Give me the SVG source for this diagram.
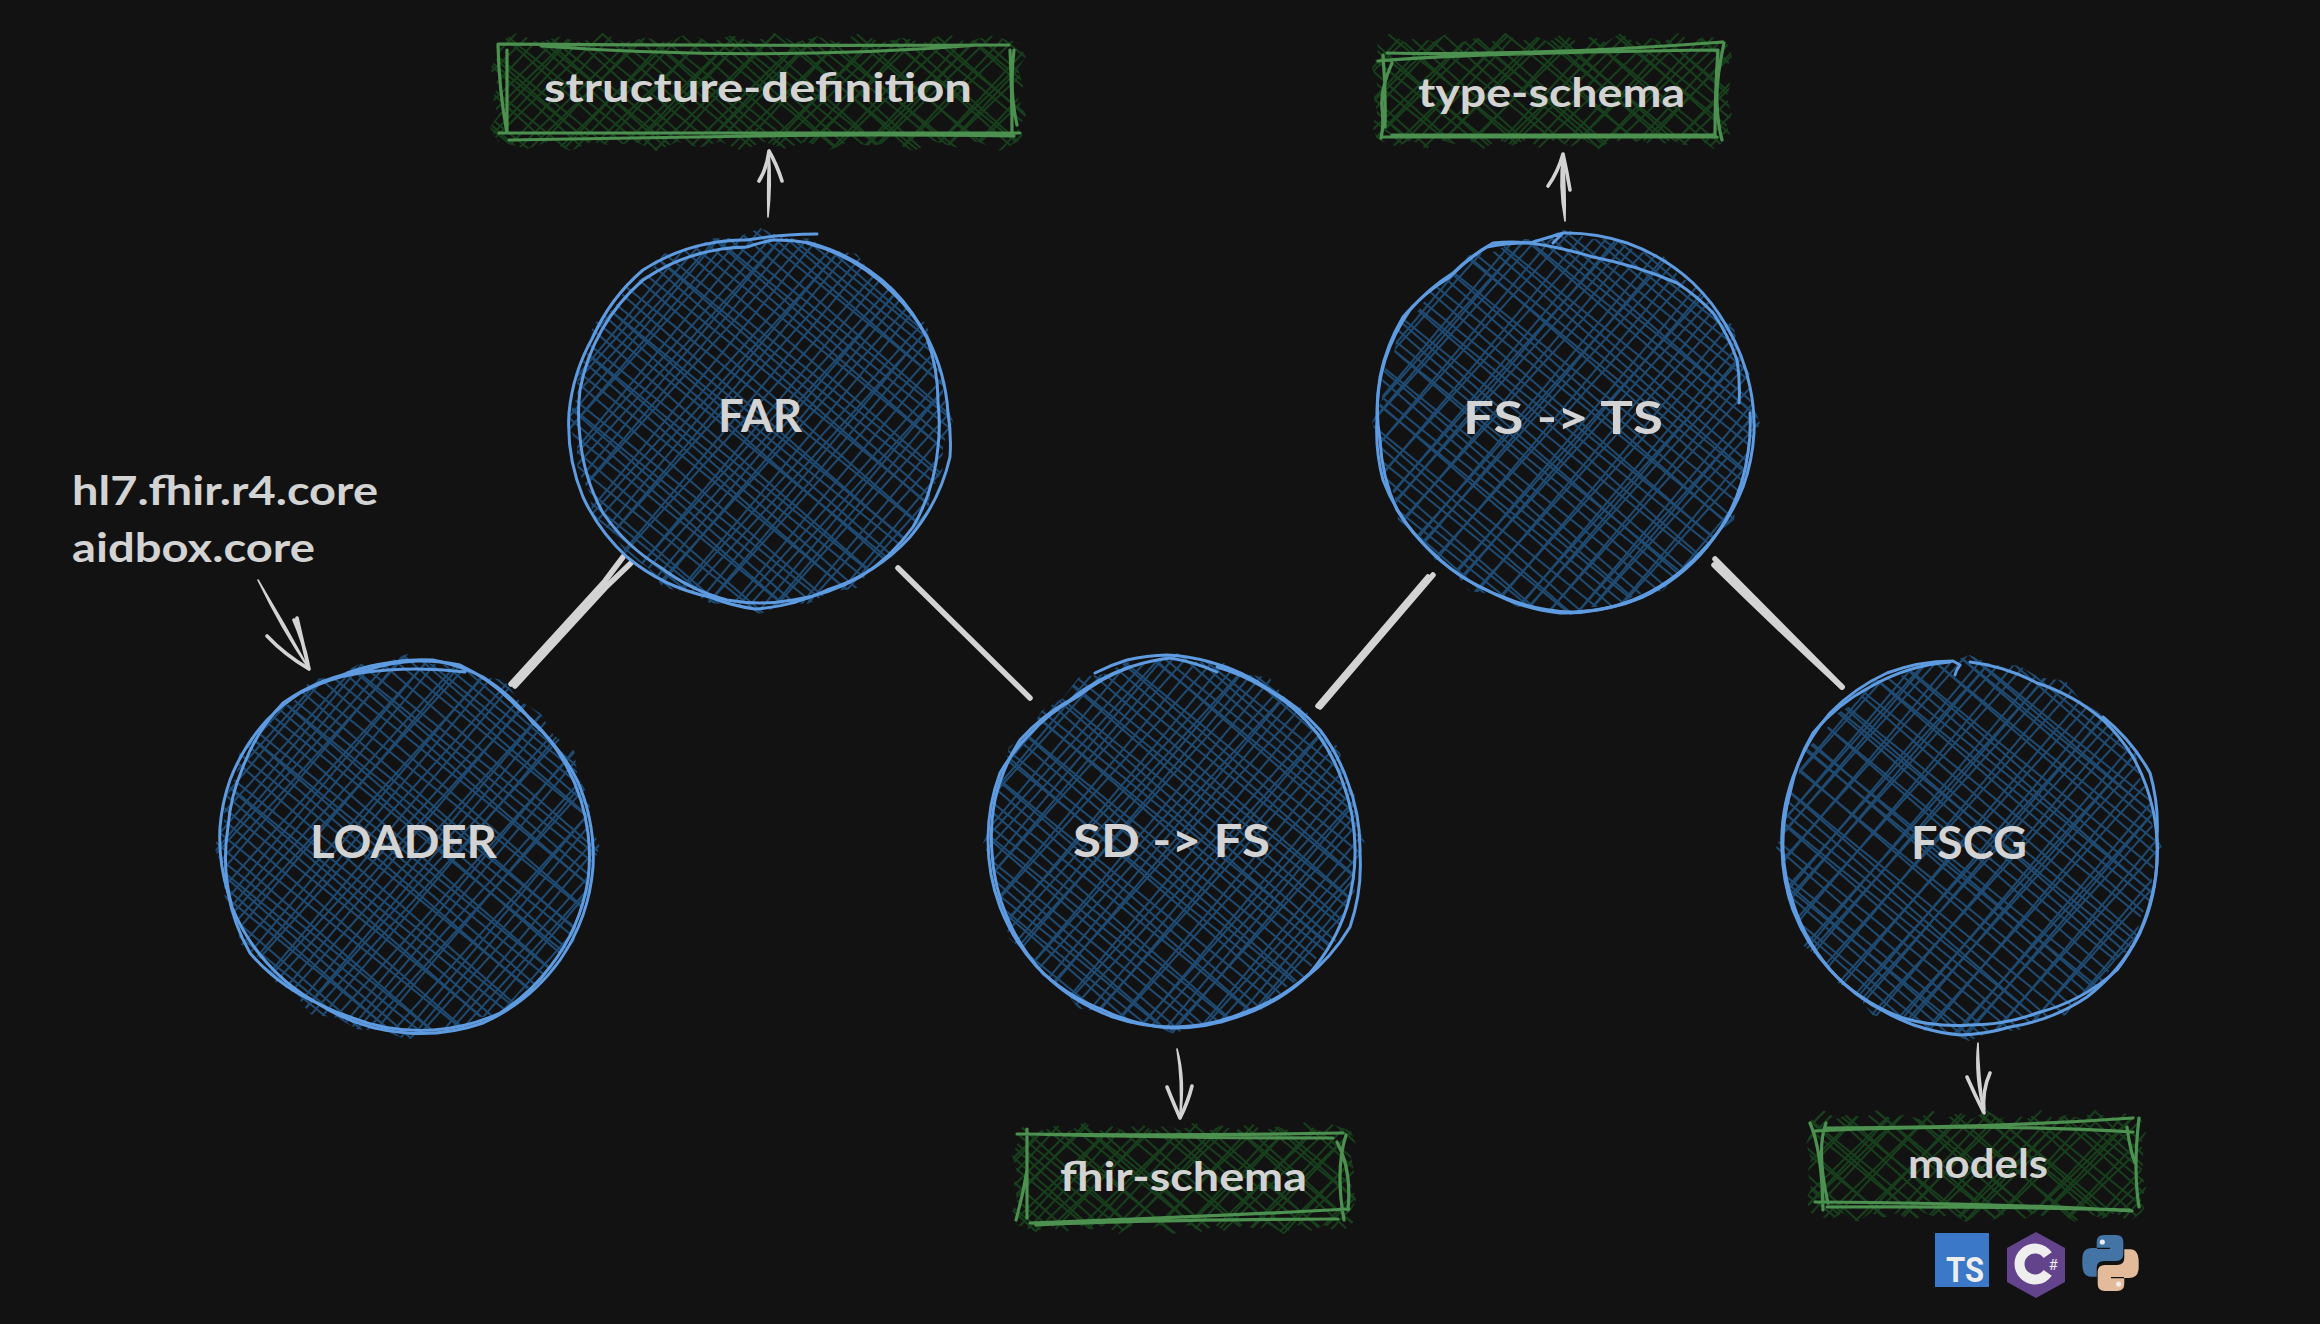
<svg xmlns="http://www.w3.org/2000/svg" width="2320" height="1324" viewBox="0 0 2320 1324">
<style>
.bg{fill:#121212}
.h1{fill:url(#b1)}.h2{fill:url(#b2)}.h3{fill:url(#b3)}.h4{fill:url(#b4)}
.g1{fill:url(#g1)}.g2{fill:url(#g2)}.g3{fill:url(#g3)}.g4{fill:url(#g4)}
.hc{clip-path:url(#star)}
.rc{clip-path:url(#zig)}
.co{fill:none;stroke:#5f9be0;stroke-width:3;stroke-linecap:round;stroke-linejoin:round}
.ro{fill:none;stroke:#4d9150;stroke-width:3.2;stroke-linecap:round;stroke-linejoin:round}
.t{font-family:"Lato","Noto Sans",sans-serif;font-weight:700;fill:#d3d3d3;font-size:40px}
.c{font-size:45px}
.conn{fill:none;stroke:#d3d3d3;stroke-width:5.5;stroke-linecap:round;stroke-linejoin:round}
.shaft{fill:#d3d3d3;stroke:#d3d3d3;stroke-width:1.6;stroke-linejoin:round}
.wing{fill:none;stroke:#d3d3d3;stroke-width:3.6;stroke-linecap:round}
</style>
<defs>
<clipPath id="star" clipPathUnits="objectBoundingBox"><polygon points="1,.5 .974,.562 .973,.627 .942,.683 .933,.75 .879,.791 .846,.846 .791,.879 .75,.933 .683,.942 .627,.973 .562,.974 .5,1 .438,.974 .373,.973 .317,.942 .25,.933 .209,.879 .154,.846 .121,.791 .067,.75 .058,.683 .027,.627 .026,.562 0,.5 .026,.438 .027,.373 .058,.317 .067,.25 .121,.209 .154,.154 .209,.121 .25,.067 .317,.058 .373,.027 .438,.026 .5,0 .562,.026 .627,.027 .683,.058 .75,.067 .791,.121 .846,.154 .879,.209 .933,.25 .942,.317 .973,.373 .974,.438"/></clipPath>
<clipPath id="zig" clipPathUnits="objectBoundingBox"><polygon points=".015,.08 .05,0 .09,.08 .13,.03 .17,.08 .21,0 .25,.08 .29,.04 .33,.08 .37,0 .41,.08 .45,.02 .49,.08 .53,0 .57,.08 .61,.03 .65,.08 .69,0 .73,.08 .77,.04 .81,.08 .85,0 .89,.08 .93,.02 .985,.08 1,.2 .985,.3 .995,.45 .985,.55 1,.7 .985,.8 .995,.88 .985,.92 .95,1 .91,.92 .87,.97 .83,.92 .79,1 .75,.92 .71,.96 .67,.92 .63,1 .59,.92 .55,.98 .51,.92 .47,1 .43,.92 .39,.97 .35,.92 .31,1 .27,.92 .23,.96 .19,.92 .15,1 .11,.92 .07,.98 .015,.92 0,.8 .015,.7 .005,.55 .015,.45 0,.3 .015,.2"/></clipPath>
<g id="tile">
<path d="M0 4H420M0 12H420M0 30H420M0 52H420M0 60H420M0 80H420M0 104H420M0 112H420M0 132H420M0 154H420" stroke-width="2.1"/>
</g>
<pattern id="b1" patternUnits="userSpaceOnUse" width="420" height="170" patternTransform="rotate(41)" stroke="#1f4a72" fill="none"><use href="#tile"/></pattern>
<pattern id="b2" patternUnits="userSpaceOnUse" width="420" height="170" patternTransform="rotate(39) translate(0 15)" stroke="#1f4a72" fill="none"><use href="#tile"/></pattern>
<pattern id="b3" patternUnits="userSpaceOnUse" width="420" height="170" patternTransform="rotate(-48)" stroke="#1f4a72" fill="none"><use href="#tile"/></pattern>
<pattern id="b4" patternUnits="userSpaceOnUse" width="420" height="170" patternTransform="rotate(-50) translate(0 20)" stroke="#1f4a72" fill="none"><use href="#tile"/></pattern>
<pattern id="g1" patternUnits="userSpaceOnUse" width="420" height="170" patternTransform="rotate(42)" stroke="#173f1c" fill="none"><use href="#tile"/></pattern>
<pattern id="g2" patternUnits="userSpaceOnUse" width="420" height="170" patternTransform="rotate(-47)" stroke="#173f1c" fill="none"><use href="#tile"/></pattern>
<pattern id="g3" patternUnits="userSpaceOnUse" width="420" height="170" patternTransform="rotate(-44) translate(0 23)" stroke="#173f1c" fill="none"><use href="#tile"/></pattern>
<pattern id="g4" patternUnits="userSpaceOnUse" width="420" height="170" patternTransform="rotate(39) translate(0 19)" stroke="#173f1c" fill="none"><use href="#tile"/></pattern>
</defs>
<rect class="bg" x="0" y="0" width="2320" height="1324"/>

<g id="connectors">
<path class="conn" d="M511 684L605 581L623 557"/>
<path class="conn" d="M515 686L607 586L631 563"/>
<path class="conn" d="M898 568L1030 698"/>
<path class="conn" d="M1318 706L1428 577"/>
<path class="conn" d="M1320 707L1433 575"/>
<path class="conn" d="M1715 559L1842 687"/>
<path class="conn" d="M1714 565Q1780 630 1842 687"/>
<g id="arrow-loader">
<path class="shaft" d="M258 580Q285 625 309 669Q281 628 258 580Z"/>
<path class="wing" d="M309 669Q285 655 267 636M309 669Q303 645 297 618M308 664Q303 640 294 620"/>
</g>
<g id="arrow-far">
<path class="shaft" d="M768 217Q767 180 769 151Q772 185 768 217Z"/>
<path class="wing" d="M769 151Q767 168 759 181M769 151Q777 165 782 181"/>
</g>
<g id="arrow-fsts">
<path class="shaft" d="M1565 221Q1558 185 1563 154Q1566 190 1565 221Z"/>
<path class="wing" d="M1563 154Q1558 172 1548 186M1563 154Q1567 172 1570 190"/>
</g>
<g id="arrow-sdfs">
<path class="shaft" d="M1177 1049Q1186 1080 1180 1118Q1182 1080 1177 1049Z"/>
<path class="wing" d="M1180 1118Q1173 1102 1167 1087M1180 1118Q1188 1102 1192 1086"/>
</g>
<g id="arrow-fscg">
<path class="shaft" d="M1978 1043Q1974 1075 1984 1113Q1979 1075 1978 1043Z"/>
<path class="wing" d="M1984 1113Q1975 1095 1967 1077M1984 1113Q1982 1090 1990 1073"/>
</g>
</g>

<g id="node-loader">
<g class="hc"><circle class="h1" cx="407" cy="847" r="193"/><circle class="h2" cx="407" cy="847" r="193"/><circle class="h3" cx="407" cy="847" r="193"/><circle class="h4" cx="407" cy="847" r="193"/></g>
<path class="co" d="M465 672A400 400 0 0 0 360 673A190 190 0 0 0 300 693A190 190 0 0 0 267 720A190 190 0 0 0 230 780A190 190 0 0 0 220 827A190 190 0 0 0 228 893A190 190 0 0 0 250 953A190 190 0 0 0 317 1003A190 190 0 0 0 407 1033A190 190 0 0 0 483 1023A190 190 0 0 0 560 960A190 190 0 0 0 593 867A190 190 0 0 0 577 780A190 190 0 0 0 533 723A190 190 0 0 0 483 677A190 190 0 0 0 433 660A190 190 0 0 0 387 663A190 190 0 0 0 347 673"/>
<path class="co" d="M417 661A190 190 0 0 0 367 670A190 190 0 0 0 283 703A190 190 0 0 0 243 767A190 190 0 0 0 228 827A190 190 0 0 0 232 907A190 190 0 0 0 267 963A190 190 0 0 0 350 1017A190 190 0 0 0 433 1030A190 190 0 0 0 500 1013A190 190 0 0 0 550 967A190 190 0 0 0 588 880A190 190 0 0 0 588 833A190 190 0 0 0 567 767A190 190 0 0 0 517 707A190 190 0 0 0 460 665A190 190 0 0 0 417 661"/>
<text class="t c" x="310" y="858" textLength="187" lengthAdjust="spacingAndGlyphs">LOADER</text>
</g>

<g id="node-far">
<g class="hc"><circle class="h1" cx="760" cy="421" r="193"/><circle class="h2" cx="760" cy="421" r="193"/><circle class="h3" cx="760" cy="421" r="193"/><circle class="h4" cx="760" cy="421" r="193"/></g>
<path class="co" d="M817 234A400 400 0 0 0 747 240A190 190 0 0 0 643 270A190 190 0 0 0 593 337A190 190 0 0 0 569 413A190 190 0 0 0 583 497A190 190 0 0 0 627 557A190 190 0 0 0 710 597A190 190 0 0 0 755 609A190 190 0 0 0 827 590A190 190 0 0 0 910 537A190 190 0 0 0 950 457A190 190 0 0 0 948 413A190 190 0 0 0 927 337A190 190 0 0 0 893 293A190 190 0 0 0 807 243"/>
<path class="co" d="M927 338A190 190 0 0 0 893 290A190 190 0 0 0 810 243A190 190 0 0 0 773 240A190 190 0 0 0 747 247A190 190 0 0 0 643 280A190 190 0 0 0 580 390A190 190 0 0 0 580 437A190 190 0 0 0 603 513A190 190 0 0 0 660 567A190 190 0 0 0 727 600A190 190 0 0 0 793 600A190 190 0 0 0 860 577A190 190 0 0 0 913 527A190 190 0 0 0 938 447A190 190 0 0 0 938 403A190 190 0 0 0 927 338"/>
<text class="t c" x="718" y="432" textLength="84" lengthAdjust="spacingAndGlyphs">FAR</text>
</g>

<g id="node-sd-fs">
<g class="hc"><circle class="h1" cx="1174" cy="843" r="191"/><circle class="h2" cx="1174" cy="843" r="191"/><circle class="h3" cx="1174" cy="843" r="191"/><circle class="h4" cx="1174" cy="843" r="191"/></g>
<path class="co" d="M1095 673A190 190 0 0 1 1127 660A190 190 0 0 1 1167 655A190 190 0 0 1 1210 662A190 190 0 0 1 1270 690A190 190 0 0 1 1320 730A190 190 0 0 1 1347 780A190 190 0 0 1 1360 853A190 190 0 0 1 1350 927A190 190 0 0 1 1303 980A190 190 0 0 1 1237 1017A190 190 0 0 1 1170 1028A190 190 0 0 1 1103 1010A190 190 0 0 1 1037 967A190 190 0 0 1 1000 907A190 190 0 0 1 988 840A190 190 0 0 1 1000 773A190 190 0 0 1 1027 737A190 190 0 0 1 1077 697A190 190 0 0 1 1130 667"/>
<path class="co" d="M1217 672A190 190 0 0 0 1170 658A190 190 0 0 0 1130 667A190 190 0 0 0 1070 700A190 190 0 0 0 1020 740A190 190 0 0 0 995 800A190 190 0 0 0 992 853A190 190 0 0 0 1007 917A190 190 0 0 0 1043 973A190 190 0 0 0 1113 1017A190 190 0 0 0 1177 1027A190 190 0 0 0 1243 1013A190 190 0 0 0 1310 973A190 190 0 0 0 1347 907A190 190 0 0 0 1355 847A190 190 0 0 0 1343 783A190 190 0 0 0 1317 733A190 190 0 0 0 1263 687A190 190 0 0 0 1217 667"/>
<text class="t c" x="1073" y="857" textLength="197" lengthAdjust="spacingAndGlyphs">SD -&gt; FS</text>
</g>

<g id="node-fs-ts">
<g class="hc"><circle class="h1" cx="1566" cy="423" r="194"/><circle class="h2" cx="1566" cy="423" r="194"/><circle class="h3" cx="1566" cy="423" r="194"/><circle class="h4" cx="1566" cy="423" r="194"/></g>
<path class="co" d="M1553 243L1563 233L1530 243A190 190 0 0 0 1493 243A190 190 0 0 0 1453 273A190 190 0 0 0 1410 310A190 190 0 0 0 1385 360A190 190 0 0 0 1377 420A190 190 0 0 0 1383 480A190 190 0 0 0 1420 540A190 190 0 0 0 1487 590A190 190 0 0 0 1560 613A190 190 0 0 0 1633 600A190 190 0 0 0 1700 553A190 190 0 0 0 1743 487A190 190 0 0 0 1754 433A190 190 0 0 0 1750 387A190 190 0 0 0 1727 327A190 190 0 0 0 1693 283A190 190 0 0 0 1627 243A190 190 0 0 0 1563 233"/>
<path class="co" d="M1739 403A190 190 0 0 0 1737 360A190 190 0 0 0 1713 313A190 190 0 0 0 1677 283A400 400 0 0 0 1593 257A400 400 0 0 0 1530 243A190 190 0 0 0 1487 247A190 190 0 0 0 1450 277A190 190 0 0 0 1403 317A190 190 0 0 0 1380 377A190 190 0 0 0 1380 440A190 190 0 0 0 1397 510A190 190 0 0 0 1433 553A190 190 0 0 0 1503 597A190 190 0 0 0 1573 612A190 190 0 0 0 1643 597A190 190 0 0 0 1707 547A190 190 0 0 0 1748 453A190 190 0 0 0 1750 413"/>
<text class="t c" x="1463" y="434" textLength="200" lengthAdjust="spacingAndGlyphs">FS -&gt; TS</text>
</g>

<g id="node-fscg">
<g class="hc"><circle class="h1" cx="1969" cy="848" r="193"/><circle class="h2" cx="1969" cy="848" r="193"/><circle class="h3" cx="1969" cy="848" r="193"/><circle class="h4" cx="1969" cy="848" r="193"/></g>
<path class="co" d="M1955 675Q1956 670 1960 665L1953 661A190 190 0 0 0 1887 673A190 190 0 0 0 1830 713A190 190 0 0 0 1797 767A190 190 0 0 0 1782 850A190 190 0 0 0 1793 910A190 190 0 0 0 1830 970A190 190 0 0 0 1887 1013A190 190 0 0 0 1960 1035A190 190 0 0 0 2010 1027A190 190 0 0 0 2087 997A190 190 0 0 0 2140 933A190 190 0 0 0 2157 857A190 190 0 0 0 2153 810A190 190 0 0 0 2133 757A190 190 0 0 0 2103 720A190 190 0 0 0 2037 683A190 190 0 0 0 1970 662"/>
<path class="co" d="M2103 717A190 190 0 0 1 2150 773A190 190 0 0 1 2157 837A190 190 0 0 1 2150 903A190 190 0 0 1 2117 970A190 190 0 0 1 2037 1013A190 190 0 0 1 1970 1025A190 190 0 0 1 1903 1018A190 190 0 0 1 1837 977A190 190 0 0 1 1793 903A190 190 0 0 1 1783 850A190 190 0 0 1 1790 793A190 190 0 0 1 1813 733A190 190 0 0 1 1870 687A190 190 0 0 1 1950 662"/>
<text class="t c" x="1911" y="859" textLength="116" lengthAdjust="spacingAndGlyphs">FSCG</text>
</g>

<g id="node-structure-definition">
<g class="rc"><rect class="g1" x="490" y="33" width="536" height="118"/><rect class="g2" x="490" y="33" width="536" height="118"/><rect class="g3" x="490" y="33" width="536" height="118"/><rect class="g4" x="490" y="33" width="536" height="118"/></g>
<path class="ro" d="M498 44Q760 46 1009 45M541 46Q760 62 980 45M499 133H1020M509 140Q640 138 757 136T1014 136M498 45Q499 90 507 133M507 50V132M1010 50Q1012 90 1012 135M1014 50Q1009 90 1017 125"/>
<text class="t" x="544" y="102" textLength="428" lengthAdjust="spacingAndGlyphs">structure-definition</text>
</g>

<g id="node-type-schema">
<g class="rc"><rect class="g1" x="1372" y="33" width="360" height="116"/><rect class="g2" x="1372" y="33" width="360" height="116"/><rect class="g3" x="1372" y="33" width="360" height="116"/><rect class="g4" x="1372" y="33" width="360" height="116"/></g>
<path class="ro" d="M1378 61Q1470 53 1717 50M1387 53Q1540 56 1723 42M1383 55Q1386 90 1385 127M1392 63Q1380 90 1382 108T1381 138M1383 137H1717M1392 135H1713M1718 50Q1715 90 1715 137M1724 43Q1716 80 1717 103T1722 140"/>
<text class="t" x="1418" y="107" textLength="267" lengthAdjust="spacingAndGlyphs">type-schema</text>
</g>

<g id="node-fhir-schema">
<g class="rc"><rect class="g1" x="1012" y="1122" width="344" height="112"/><rect class="g2" x="1012" y="1122" width="344" height="112"/><rect class="g3" x="1012" y="1122" width="344" height="112"/><rect class="g4" x="1012" y="1122" width="344" height="112"/></g>
<path class="ro" d="M1017 1134Q1180 1136 1343 1133M1027 1134Q1167 1138 1333 1138M1027 1129V1218M1027 1170Q1023 1195 1016 1220M1030 1223Q1200 1217 1349 1209M1036 1225Q1133 1220 1338 1219M1346 1135Q1335 1170 1344 1220M1337 1142Q1352 1170 1348 1210"/>
<text class="t" x="1060" y="1191" textLength="247" lengthAdjust="spacingAndGlyphs">fhir-schema</text>
</g>

<g id="node-models">
<g class="rc"><rect class="g1" x="1806" y="1110" width="340" height="112"/><rect class="g2" x="1806" y="1110" width="340" height="112"/><rect class="g3" x="1806" y="1110" width="340" height="112"/><rect class="g4" x="1806" y="1110" width="340" height="112"/></g>
<path class="ro" d="M1825 1128Q1990 1128 2133 1118M1814 1131Q1990 1123 2133 1132M1810 1123Q1822 1150 1823 1210M1826 1123Q1816 1150 1828 1203M1815 1202Q2000 1203 2132 1211M1827 1207Q2000 1206 2130 1210M2139 1118Q2133 1170 2139 1207M2127 1127Q2130 1150 2135 1163"/>
<text class="t" x="1908" y="1178" textLength="140" lengthAdjust="spacingAndGlyphs">models</text>
</g>

<g id="node-packages">
<text class="t" x="72" y="505" textLength="306" lengthAdjust="spacingAndGlyphs">hl7.fhir.r4.core</text>
<text class="t" x="72" y="562" textLength="243" lengthAdjust="spacingAndGlyphs">aidbox.core</text>
</g>

<g id="icon-ts">
<rect x="1935" y="1233" width="54" height="54" fill="#3b78c8"/>
<text x="1946" y="1282" font-family="Roboto,sans-serif" font-weight="700" font-size="35" fill="#eeeeee" textLength="38" lengthAdjust="spacingAndGlyphs">TS</text>
</g>
<g id="icon-csharp">
<path d="M2036 1232L2065 1248V1282L2036 1298L2007 1282V1248Z" fill="#63438c"/>
<path d="M2047.7 1255.1A15.5 15.5 0 1 0 2047.7 1272.9" fill="none" stroke="#eeeeee" stroke-width="10"/>
<text x="2053" y="1270" font-family="Roboto,sans-serif" font-size="15" fill="#eeeeee" text-anchor="middle">#</text>
</g>
<g id="icon-python">
<path d="M2096.7 1248V1242Q2096.7 1235 2104 1235H2116Q2123.3 1235 2123.3 1242V1254Q2123.3 1261 2116 1261H2104Q2096.7 1261 2096.7 1268V1276.7H2091Q2082.3 1276.7 2082.3 1264V1259Q2082.3 1248 2092 1248Z" fill="#4474a6"/>
<path d="M2096.7 1248V1242Q2096.7 1235 2104 1235H2116Q2123.3 1235 2123.3 1242V1254Q2123.3 1261 2116 1261H2104Q2096.7 1261 2096.7 1268V1276.7H2091Q2082.3 1276.7 2082.3 1264V1259Q2082.3 1248 2092 1248Z" fill="#e3bb9a" transform="rotate(180 2110.5 1263)"/>
<path d="M2097 1248.4H2110M2111 1277.6H2124" stroke="#121212" stroke-width="1.2" fill="none"/>
<circle cx="2102.3" cy="1242" r="2.6" fill="#eeeeee"/><circle cx="2118.7" cy="1284" r="2.6" fill="#eeeeee"/>
</g>
</svg>
